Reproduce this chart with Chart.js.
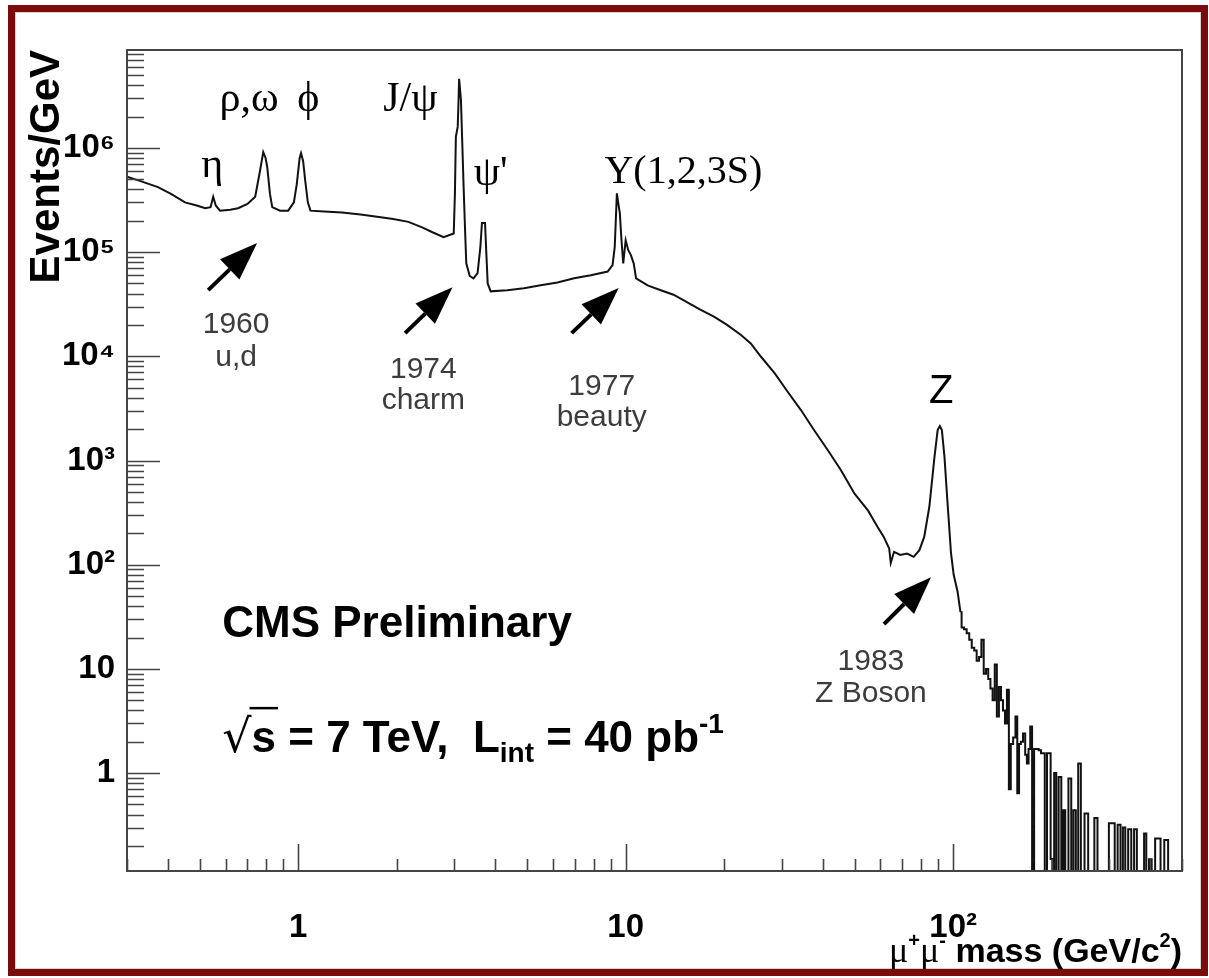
<!DOCTYPE html>
<html lang="en">
<head>
    <meta charset="UTF-8">
    <title>CMS dimuon mass spectrum</title>
    <script src="https://cdn.jsdelivr.net/npm/chart.js"></script>
    <style>
        body {
            margin: 0;
            background: #fff;
        }
        #frame {
            position: absolute;
            left: 8px;
            top: 5px;
            width: 1186px;
            height: 957px;
            border: 7px solid #7b0a0a;
            box-shadow: inset 0 0 0 1px #d4d4d4;
            background: #fff;
        }
        canvas { display: block; }
    </style>
</head>
<body>
<div id="frame"><canvas id="spectrum" width="1186" height="957"></canvas></div>

<script>
    // dimuon mass (GeV) and Events/GeV
    const massMain = [
        0.30, 0.33, 0.373, 0.41, 0.451, 0.49, 0.52, 0.54, 0.55, 0.56,
        0.577, 0.62, 0.655, 0.70, 0.739, 0.765, 0.782, 0.795, 0.804, 0.82,
        0.833, 0.88, 0.932, 0.97, 0.99, 1.01, 1.02, 1.035, 1.05, 1.07,
        1.09, 1.2, 1.36, 1.55, 1.72, 1.95, 2.17, 2.4, 2.57, 2.78,
        2.985, 3.01, 3.03, 3.07, 3.09, 3.10, 3.14, 3.17, 3.20, 3.23,
        3.26, 3.34, 3.43, 3.53, 3.60, 3.64, 3.72, 3.75, 3.79, 3.87,
        4.35, 4.89, 5.50, 6.19, 6.96, 7.83, 8.81, 9.12, 9.26, 9.40,
        9.50, 9.60, 9.71, 9.83, 10.0, 10.18, 10.38, 10.58, 10.76, 11.67,
        12.8, 14.0, 16.9, 18.6, 20.4, 22.5, 24.1, 25.9, 28.5, 31.2,
        34.3, 37.6, 41.4, 45.4, 50.0, 55.0, 58.8, 61.4, 63.8, 64.5,
        66.0, 69.0, 72.3, 75.8, 78.9, 81.6, 84.6, 87.7, 89.7, 91.1,
        92.4, 94.1, 96.0, 98.5, 100.4, 103.2, 105.3
    ];
    const eventsMain = [
        5.3e5, 4.8e5, 4.2e5, 3.6e5, 3.0e5, 2.8e5, 2.64e5, 2.7e5, 3.4e5, 2.8e5,
        2.5e5, 2.55e5, 2.64e5, 2.9e5, 3.4e5, 6.1e5, 9.1e5, 8.0e5, 6.6e5, 3.6e5,
        2.7e5, 2.5e5, 2.5e5, 3.0e5, 4.5e5, 8.0e5, 8.9e5, 7.5e5, 4.9e5, 3.0e5,
        2.5e5, 2.45e5, 2.4e5, 2.3e5, 2.2e5, 2.08e5, 1.95e5, 1.72e5, 1.55e5, 1.39e5,
        1.51e5, 3.66e5, 1.28e6, 1.6e6, 3.1e6, 4.6e6, 2.9e6, 1.1e6, 4.2e5, 1.75e5,
        7.8e4, 5.9e4, 5.6e4, 6.3e4, 1.12e5, 1.9e5, 1.9e5, 1.05e5, 5.0e4, 4.2e4,
        4.3e4, 4.5e4, 4.8e4, 5.1e4, 5.6e4, 6.0e4, 6.5e4, 7.5e4, 1.12e5, 3.66e5,
        2.9e5, 2.35e5, 1.3e5, 7.8e4, 1.3e5, 1.05e5, 9.3e4, 7.8e4, 5.6e4, 4.8e4,
        4.3e4, 3.9e4, 2.8e4, 2.4e4, 2.0e4, 1.6e4, 1.33e4, 9.9e3, 6.9e3, 4.6e3,
        3.05e3, 1.96e3, 1.26e3, 810, 480, 330, 230, 185, 143, 104,
        133, 124, 128, 119, 138, 185, 360, 1.08e3, 1.96e3, 2.14e3,
        1.96e3, 1.08e3, 420, 130, 80, 55, 35
    ];

    // high-mass tail, drawn as histogram steps (0 = empty bin)
    const massTail = [
        105.3, 107, 109, 111, 113, 115, 117, 119, 121, 123,
        125, 127, 129, 131, 133, 135, 137, 139, 141, 143,
        145, 147, 149, 151, 154, 156, 158, 160, 162, 165,
        167, 169, 171, 173, 175.5, 178, 181, 184, 187, 189,
        192, 195, 197, 200, 202, 205, 208, 212, 216, 218,
        222, 228, 231, 235, 239, 243, 248, 256, 261, 267,
        273, 279, 296, 302, 306, 309, 314, 322, 327, 333,
        338, 347, 353, 361, 367, 380, 386, 392, 401, 407,
        421, 427, 433, 450, 457, 500
    ];
    const eventsTail = [
        35, 25, 24, 22, 19, 16, 15, 12, 13, 19,
        9, 10, 8, 6.5, 5, 11, 3.5, 6.7, 5, 4,
        3, 6.3, 0.7, 1.9, 2.2, 3.5, 0.64, 1.9, 2.0, 2.4,
        1.5, 1.24, 1.7, 2.8, 0, 1.7, 1.7, 1.66, 1.55, 1.55,
        0, 1.55, 1.55, 0.15, 0, 1.0, 0, 0.92, 0, 0.44,
        0, 0.89, 0, 0.44, 0, 1.24, 0, 0.41, 0, 0,
        0.37, 0, 0, 0.33, 0.33, 0.33, 0, 0.32, 0, 0.30,
        0, 0.29, 0, 0.29, 0, 0, 0.264, 0, 0.149, 0,
        0.236, 0.236, 0, 0.228, 0, 0
    ];

    const yDecadeLabels = ['1', '10', '10²', '10³', '10⁴', '10⁵', '10⁶'];
    const xDecadeLabels = ['1', '10', '10²'];

    const peakLabels = [
        { text: 'η', mass: 0.546, events: 5.25e5 },
        { text: 'ρ,ω', mass: 0.708, events: 2.25e6 },
        { text: 'ϕ', mass: 1.073, events: 2.25e6 },
        { text: 'J/ψ', mass: 2.20, events: 2.25e6 },
        { text: "ψ'", mass: 3.87, events: 4.4e5 },
        { text: 'Υ(1,2,3S)', mass: 15.0, events: 4.6e5 }
    ];
    const discoveries = [
        { lines: ['1960', 'u,d'], mass: 0.646, events: [1.67e4, 8.05e3], from: [0.531, 4.32e4], to: [0.749, 1.22e5] },
        { lines: ['1974', 'charm'], mass: 2.41, events: [6.18e3, 3.11e3], from: [2.12, 1.67e4], to: [2.96, 4.61e4] },
        { lines: ['1977', 'beauty'], mass: 8.45, events: [4.25e3, 2.14e3], from: [6.84, 1.67e4], to: [9.52, 4.52e4] },
        { lines: ['1983', 'Z Boson'], mass: 56.1, events: [9.7, 4.8], from: [61.5, 26.9], to: [85.6, 76] }
    ];

    const X_MIN = 0.3, X_MAX = 500, Y_MIN = 0.115, Y_MAX = 8.7e6;
    const FLOOR = 0.01;
    const SANS = '"Liberation Sans", Arial, sans-serif';
    const SERIF = '"Liberation Serif", "Times New Roman", serif';

    const isDecade = v => Math.abs(Math.log10(v) - Math.round(Math.log10(v))) < 1e-6;

    const logTicks = (lo, hi, e0, e1) => {
        const out = [];
        for (let e = e0; e <= e1; e++) {
            for (let s = 1; s <= 9; s++) {
                const v = Number((s * Math.pow(10, e)).toPrecision(3));
                if (v >= lo && v <= hi) out.push({ value: v });
            }
        }
        return out;
    };

    const decadeLabel = labels => value => {
        if (!isDecade(value)) return '';
        return labels[Math.round(Math.log10(value))] || '';
    };

    const drawRuns = (ctx, x, y, runs, align) => {
        let w = 0;
        runs.forEach(r => { ctx.font = r.font; w += ctx.measureText(r.text).width; });
        let cx = align === 'right' ? x - w : x;
        runs.forEach(r => {
            ctx.font = r.font;
            ctx.fillText(r.text, cx, y + (r.dy || 0));
            cx += ctx.measureText(r.text).width;
        });
    };

    const drawArrow = (ctx, [x0, y0], [x1, y1]) => {
        const ang = Math.atan2(y1 - y0, x1 - x0);
        const head = 38, half = 14;
        const bx = x1 - head * Math.cos(ang), by = y1 - head * Math.sin(ang);
        ctx.lineWidth = 4;
        ctx.beginPath();
        ctx.moveTo(x0, y0);
        ctx.lineTo(bx, by);
        ctx.stroke();
        ctx.beginPath();
        ctx.moveTo(x1, y1);
        ctx.lineTo(bx + half * Math.sin(ang), by - half * Math.cos(ang));
        ctx.lineTo(bx - half * Math.sin(ang), by + half * Math.cos(ang));
        ctx.closePath();
        ctx.fill();
    };

    const rootStyle = {
        id: 'rootStyle',
        afterDatasetsDraw(chart) {
            const { ctx, chartArea: a, scales: { x, y } } = chart;
            const px = (m, v) => [x.getPixelForValue(m), y.getPixelForValue(v)];
            ctx.save();

            // frame + inward ticks
            ctx.strokeStyle = '#444';
            ctx.lineWidth = 2;
            ctx.strokeRect(a.left, a.top, a.right - a.left, a.bottom - a.top);
            ctx.lineWidth = 1.6;
            ctx.beginPath();
            y.ticks.forEach(t => {
                const py = Math.round(y.getPixelForValue(t.value)) + 0.5;
                ctx.moveTo(a.left, py);
                ctx.lineTo(a.left + (isDecade(t.value) ? 33 : 17), py);
            });
            x.ticks.forEach(t => {
                const qx = Math.round(x.getPixelForValue(t.value)) + 0.5;
                ctx.moveTo(qx, a.bottom);
                ctx.lineTo(qx, a.bottom - (isDecade(t.value) ? 27 : 12));
            });
            ctx.stroke();

            // peak names
            ctx.fillStyle = '#000';
            ctx.textAlign = 'center';
            ctx.textBaseline = 'alphabetic';
            peakLabels.forEach(p => {
                const [lx, ly] = px(p.mass, p.events);
                ctx.font = (p.text.length > 5 ? '40px ' : '42px ') + SERIF;
                ctx.fillText(p.text, lx, ly);
            });
            ctx.font = '40px ' + SANS;
            const [zx, zy] = px(91.9, 3.56e3);
            ctx.fillText('Z', zx, zy);

            // discovery arrows and years
            ctx.strokeStyle = '#000';
            discoveries.forEach(d => {
                drawArrow(ctx, px(...d.from), px(...d.to));
            });
            ctx.fillStyle = '#3c3c3c';
            ctx.font = '30px ' + SANS;
            discoveries.forEach(d => {
                d.lines.forEach((line, i) => {
                    const [lx, ly] = px(d.mass, d.events[i]);
                    ctx.fillText(line, lx, ly);
                });
            });

            // CMS text
            ctx.fillStyle = '#000';
            ctx.textAlign = 'left';
            const [cx, cy] = px(0.586, 20.2);
            ctx.font = 'bold 44px ' + SANS;
            ctx.fillText('CMS Preliminary', cx, cy);

            const [sx, sy] = px(0.586, 1.59);
            ctx.font = '46px "DejaVu Sans"';
            const rootW = ctx.measureText('√').width;
            ctx.font = 'bold 44px ' + SANS;
            const sW = ctx.measureText('s').width;
            ctx.lineWidth = 2.5;
            ctx.beginPath();
            ctx.moveTo(sx + rootW - 2, sy - 44);
            ctx.lineTo(sx + rootW + sW + 2, sy - 44);
            ctx.stroke();
            drawRuns(ctx, sx, sy, [
                { text: '√', font: '46px "DejaVu Sans"' },
                { text: 's = 7 TeV,  L', font: 'bold 44px ' + SANS },
                { text: 'int', font: 'bold 28px ' + SANS, dy: 10 },
                { text: ' = 40 pb', font: 'bold 44px ' + SANS },
                { text: '-1', font: 'bold 28px ' + SANS, dy: -19 }
            ]);

            // x axis title
            drawRuns(ctx, a.right, a.bottom + 91, [
                { text: 'μ', font: '36px ' + SERIF },
                { text: '+', font: 'bold 20px ' + SANS, dy: -15 },
                { text: 'μ', font: '36px ' + SERIF },
                { text: '-', font: 'bold 20px ' + SANS, dy: -15 },
                { text: ' mass (GeV/c', font: 'bold 34px ' + SANS },
                { text: '2', font: 'bold 20px ' + SANS, dy: -15 },
                { text: ')', font: 'bold 34px ' + SANS }
            ], 'right');

            ctx.restore();
        }
    };

    const toPoints = (xs, ys) => xs.map((m, i) => ({ x: m, y: ys[i] > 0 ? ys[i] : FLOOR }));

    new Chart(document.getElementById('spectrum'), {
        type: 'line',
        data: {
            datasets: [
                {
                    label: 'spectrum',
                    data: toPoints(massMain, eventsMain),
                    borderColor: '#111',
                    borderWidth: 2,
                    pointRadius: 0,
                    tension: 0
                },
                {
                    label: 'tail',
                    data: toPoints(massTail, eventsTail),
                    borderColor: '#111',
                    borderWidth: 2,
                    pointRadius: 0,
                    stepped: 'middle'
                }
            ]
        },
        options: {
            responsive: false,
            animation: false,
            devicePixelRatio: 1,
            layout: { padding: { top: 38, right: 19, left: 0, bottom: 0 } },
            plugins: {
                legend: { display: false },
                tooltip: { enabled: false }
            },
            scales: {
                x: {
                    type: 'logarithmic',
                    min: X_MIN,
                    max: X_MAX,
                    afterFit: s => { s.height = 98; },
                    afterBuildTicks: s => { s.ticks = logTicks(X_MIN, X_MAX, -1, 2); },
                    // invisible grid; tickLength only offsets the labels
                    grid: { display: false, drawTicks: true, tickLength: 34 },
                    border: { display: false },
                    ticks: {
                        autoSkip: false,
                        maxRotation: 0,
                        padding: 3,
                        color: '#000',
                        font: { family: SANS, size: 33, weight: 'bold' },
                        callback: decadeLabel(xDecadeLabels)
                    }
                },
                y: {
                    type: 'logarithmic',
                    min: Y_MIN,
                    max: Y_MAX,
                    afterFit: s => { s.width = 112; },
                    afterBuildTicks: s => { s.ticks = logTicks(Y_MIN, Y_MAX, -1, 6); },
                    grid: { display: false, drawTicks: true, tickLength: 9 },
                    border: { display: false },
                    ticks: {
                        autoSkip: false,
                        padding: 3,
                        color: '#000',
                        font: { family: SANS, size: 33, weight: 'bold' },
                        callback: decadeLabel(yDecadeLabels)
                    },
                    title: {
                        display: true,
                        text: 'Events/GeV',
                        align: 'end',
                        color: '#000',
                        font: { family: SANS, size: 42, weight: 'bold' },
                        padding: { top: 7, bottom: 0 }
                    }
                }
            }
        },
        plugins: [rootStyle]
    });
</script>
</body>
</html>
